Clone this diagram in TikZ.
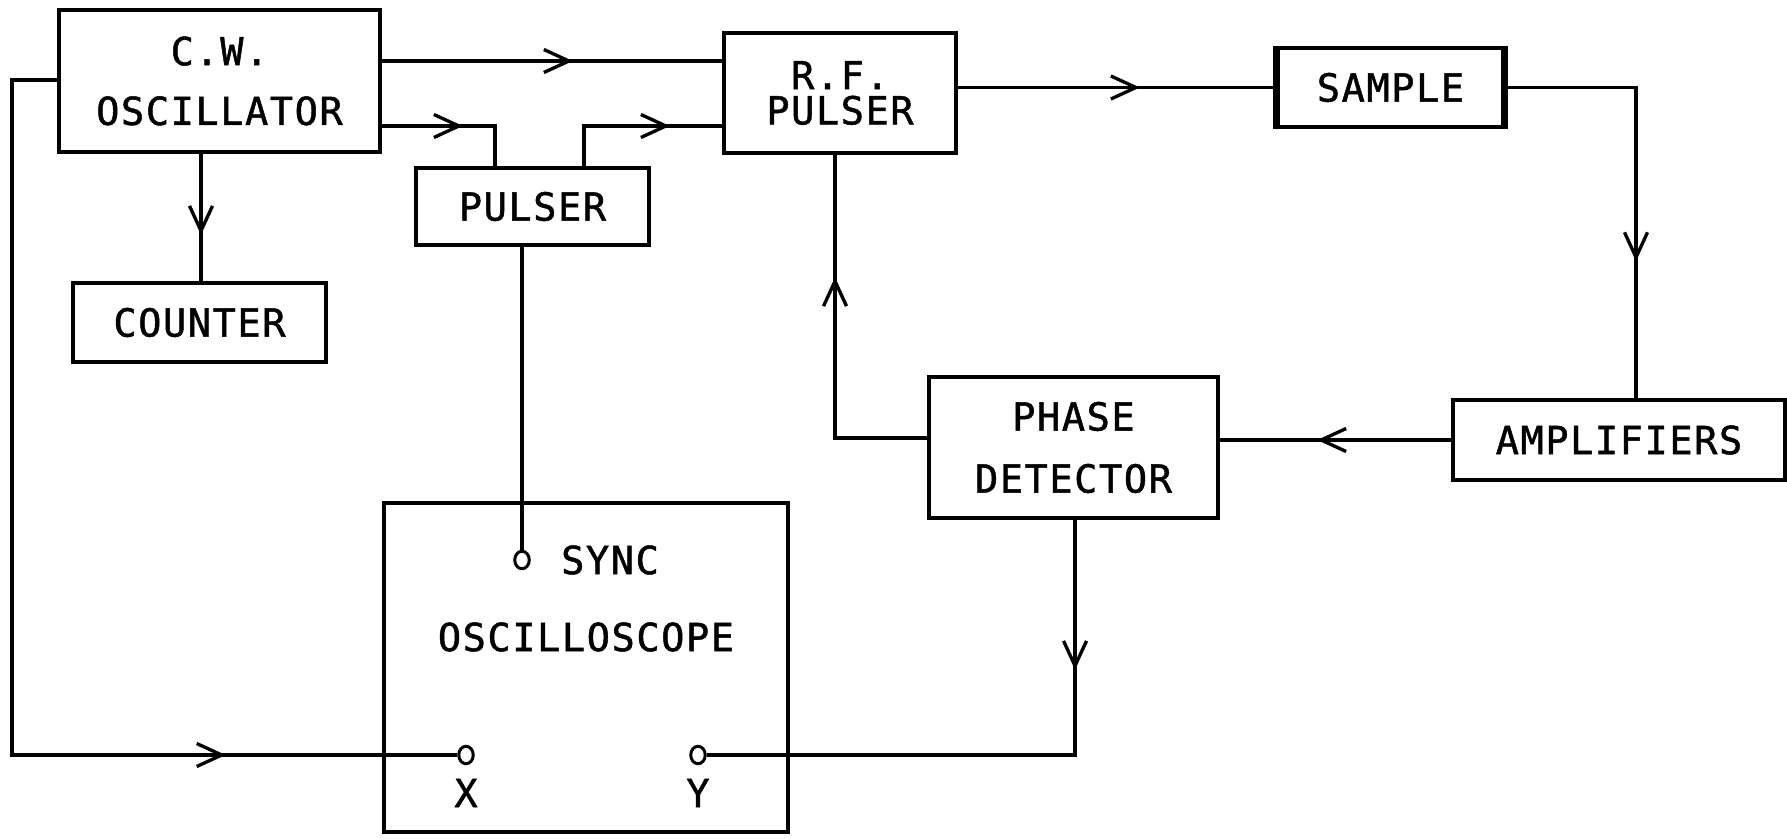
\documentclass[tikz,border=0pt]{standalone}
\usepackage{fontspec}
\newfontfamily\lettering[LetterSpace=4,FakeBold=1.2]{DejaVu Sans Mono}
\usetikzlibrary{arrows.meta,decorations.markings,calc}
\tikzset{
  chev/.tip={Straight Barb[length=0.5cm,width=0.46cm]},
  conn/.style={line width=1.9pt},
  box/.style={draw,line width=2.2pt,inner sep=0pt,align=center,
    font=\lettering\fontsize{22}{34}\selectfont},
  lbl/.style={inner sep=0pt,font=\lettering\fontsize{22}{34}\selectfont},
  term/.style={draw,ellipse,fill=white,inner sep=0pt,minimum width=0.29cm,minimum height=0.35cm,line width=1.7pt},
  flowmark/.style={postaction={decorate},
    decoration={markings,mark=at position #1 with {\arrow{chev}}}}
}
\usetikzlibrary{shapes.geometric}
\begin{document}
\begin{tikzpicture}[x=0.02cm,y=-0.02cm]
\useasboundingbox (0,0) rectangle (1787,838);
% boxes
\node[box,minimum width=6.42cm,minimum height=2.84cm] (cw) at (219.5,81) {C.W.\\OSCILLATOR};
\node[box,minimum width=5.06cm,minimum height=1.58cm] (counter) at (199.5,322.5) {COUNTER};
\node[box,minimum width=4.66cm,minimum height=1.54cm] (pulser) at (532.5,206.5) {PULSER};
\node[box,minimum width=4.64cm,minimum height=2.40cm,font=\lettering\fontsize{22}{20}\selectfont] (rfp) at (840,93) {R.F.\\PULSER};
\node[box,minimum width=4.62cm,minimum height=1.58cm] (sample) at (1390.5,87.5) {SAMPLE};
\node[box,minimum width=5.78cm,minimum height=2.82cm,font=\lettering\fontsize{22}{35.3}\selectfont] (pd) at (1073.5,447.5) {PHASE\\DETECTOR};
\node[box,minimum width=6.64cm,minimum height=1.60cm] (amp) at (1619,440) {AMPLIFIERS};
\node[box,minimum width=8.08cm,minimum height=6.58cm] (osc) at (586,667.5) {};
\node[lbl] (osclbl) at (586,637) {OSCILLOSCOPE};
\node[lbl] (synclbl) at (610,560) {SYNC};
\node[lbl] (xl) at (466,793) {X};
\node[lbl] (yl) at (698,793) {Y};
% sample tube ends
\draw[conn] ($(sample.north west)+(5,3)$) -- ($(sample.south west)+(5,-3)$);
\draw[conn] ($(sample.north east)+(-5,3)$) -- ($(sample.south east)+(-5,-3)$);
% connectors
\draw[conn,flowmark=3.82cm] (cw.east |- 0,61) -- (rfp.west |- 0,61);
\draw[conn,flowmark=1.62cm] (cw.east |- 0,126) -| (495,0 |- pulser.north);
\draw[conn,flowmark=2.52cm] (584,0 |- pulser.north) |- (rfp.west |- 0,126);
\draw[conn,flowmark=3.64cm] (rfp.east |- sample.west) -- (sample.west);
\draw[conn,flowmark=6.04cm] (sample.east) -| (1636,0 |- amp.north);
\draw[conn,flowmark=2.68cm] (amp.west) -- (pd.east |- amp.west);
\draw[conn,flowmark=5.06cm] (pd.west |- 0,438) -| (835,0 |- rfp.south);
\draw[conn,flowmark=1.62cm] (201,0 |- cw.south) -- (201,0 |- counter.north);
% terminals
\node[term] (sync) at (522,560) {};
\node[term] (xt) at (466,755) {};
\node[term] (yt) at (698,755) {};
\draw[conn] (sync |- pulser.south) -- (sync.north);
\draw[conn,flowmark=3.0cm] (1075,0 |- pd.south) |- (yt.east);
\draw[conn,flowmark=18.68cm] (cw.west |- 0,80) -| (12,0 |- xt.west) -- (xt.west);
\end{tikzpicture}
\end{document}
